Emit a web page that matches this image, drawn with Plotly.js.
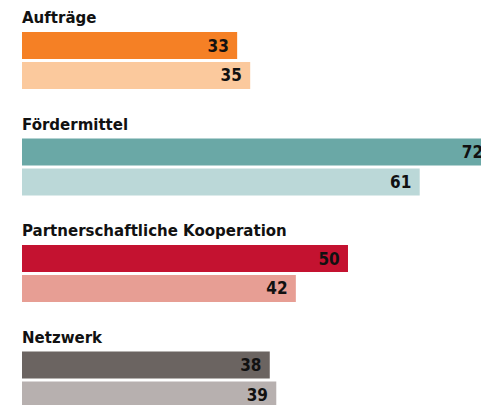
<!DOCTYPE html>
<html><head><meta charset="utf-8">
<script src="https://cdn.plot.ly/plotly-3.0.1.min.js"></script>
<style>html,body{margin:0;padding:0;background:#fff;overflow:hidden}#chart{width:481px;height:405px}</style>
</head><body><div id="chart"></div>
<script>
const categories = ["Aufträge", "Fördermittel", "Partnerschaftliche Kooperation", "Netzwerk"];
const seriesA = [33, 72, 50, 38];
const seriesB = [35, 61, 42, 39];
const colorsA = ["#F58025", "#6AA8A6", "#C41230", "#6B6461"];
const colorsB = ["#FBC99D", "#BBD8D8", "#E79E94", "#B7B0AF"];

const numFont = {family: "DejaVu Sans Condensed, DejaVu Sans, sans-serif", size: 17, color: "#111", weight: 700};
function mk(vals, cols, name) {
  return {
    type: "bar", orientation: "h", name: name,
    y: categories, x: vals,
    marker: {color: cols, line: {width: 0}},
    text: vals.map(String),
    texttemplate: "%{text}\u00a0",
    textposition: "inside", insidetextanchor: "end",
    insidetextfont: numFont, textangle: 0, constraintext: "none",
    hoverinfo: "skip"
  };
}
const annotations = categories.map(c => ({
  x: 0, xref: "x", y: c, yref: "y", xanchor: "left", yanchor: "bottom",
  xshift: -2, yshift: 31, showarrow: false, text: "<b>" + c + "</b>",
  font: {family: "DejaVu Sans, sans-serif", size: 15, color: "#111"}
}));
Plotly.newPlot("chart", [mk(seriesA, colorsA, "A"), mk(seriesB, colorsB, "B")], {
  width: 481, height: 405,
  margin: {l: 22, r: 0, t: 0, b: 0, pad: 0},
  paper_bgcolor: "#fff", plot_bgcolor: "#fff",
  barmode: "group", bargap: 0.4375, bargroupgap: 0.1,
  showlegend: false,
  xaxis: {range: [0, 70.4], visible: false, fixedrange: true},
  yaxis: {type: "category", range: [3.235, -0.568], visible: false, fixedrange: true},
  annotations: annotations
}, {staticPlot: true, displayModeBar: false});
</script></body></html>
